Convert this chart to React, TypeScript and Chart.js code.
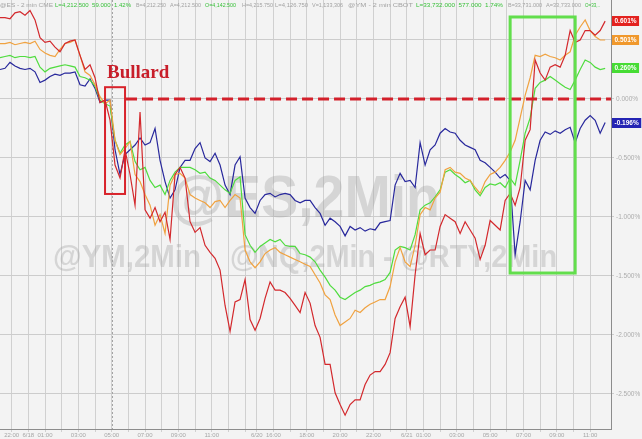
import React, { useEffect, useRef } from "react";
import { Chart, registerables } from "chart.js";

Chart.register(...registerables);

// ---- time axis: one unit = one hourly gridline ----
const X_MIN = -0.7;
const X_MAX = 35.95;
const BAR_START = -0.7; // first sampled bar
const BAR_STEP = 0.3; // spacing between sampled bars (in hourly units)

const X_TICK_POS = [
  0, 1, 2, 3, 4, 5, 6, 7, 8, 9, 10, 11, 12, 13, 14,
  14.7, 15.7, 16.7, 17.7, 18.7, 19.7, 20.7, 21.7, 22.7, 23.7, 24.7, 25.7, 26.7,
  27.7, 28.7, 29.7, 30.7, 31.7, 32.7, 33.7, 34.7,
];
const X_TICK_LABEL = [
  "22:00", "6/18", "01:00", "", "03:00", "", "05:00", "", "07:00", "", "09:00", "", "11:00", "", "",
  "6/20", "16:00", "", "18:00", "", "20:00", "", "22:00", "", "6/21", "01:00", "", "03:00",
  "", "05:00", "", "07:00", "", "09:00", "", "11:00",
];
const SESSION_MARK = 6;

// ---- value axis (% change) ----
const Y_MIN = -2.797;
const Y_MAX = 0.839;
const Y_TICKS = [0.5, 0, -0.5, -1, -1.5, -2, -2.5];

// ---- series (% change) ----
const RTY = [
  0.69, 0.69, 0.68, 0.73, 0.74, 0.71, 0.75, 0.67, 0.52, 0.48,
  0.49, 0.44, 0.40, 0.47, 0.49, 0.50, 0.37, 0.25, 0.29, 0.18,
  -0.03, -0.01, -0.18, -0.56, -0.67, -0.43, -0.64, -0.90, -0.11, -0.94,
  -1.01, -0.92, -1.04, -0.96, -1.19, -0.64, -0.58, -0.67, -1.04, -1.13,
  -1.09, -1.24, -1.30, -1.35, -1.45, -1.75, -1.97, -1.72, -1.70, -1.53,
  -1.87, -1.96, -1.86, -1.69, -1.55, -1.62, -1.62, -1.64, -1.69, -1.75,
  -1.81, -1.64, -1.73, -1.92, -2.02, -2.25, -2.25, -2.49, -2.59, -2.68,
  -2.59, -2.55, -2.55, -2.42, -2.34, -2.31, -2.31, -2.25, -2.15, -1.86,
  -1.76, -1.68, -1.93, -1.49, -1.14, -1.32, -1.28, -1.28, -1.08, -0.98,
  -1.01, -1.04, -1.14, -1.04, -1.11, -1.18, -1.36, -1.24, -1.03, -1.07,
  -1.11, -0.86, -0.80, -0.90, -0.75, -0.35, -0.26, 0.33, 0.22, 0.16,
  0.27, 0.29, 0.27, 0.37, 0.58, 0.48, 0.50, 0.58, 0.58, 0.54,
  0.58, 0.66,
];
const NQ = [
  0.47, 0.47, 0.48, 0.46, 0.47, 0.48, 0.47, 0.49, 0.42, 0.39,
  0.37, 0.36, 0.42, 0.47, 0.48, 0.50, 0.37, 0.23, 0.20, 0.12,
  0.02, -0.04, -0.01, -0.35, -0.47, -0.42, -0.36, -0.64, -0.70, -0.81,
  -0.90, -1.07, -0.98, -1.14, -0.73, -0.64, -0.63, -0.67, -0.81, -0.84,
  -0.86, -0.88, -0.92, -0.87, -0.86, -0.92, -0.86, -0.81, -0.84, -1.28,
  -1.38, -1.43, -1.38, -1.31, -1.28, -1.26, -1.30, -1.32, -1.34, -1.36,
  -1.38, -1.40, -1.42, -1.49, -1.56, -1.66, -1.70, -1.83, -1.92, -1.89,
  -1.86, -1.79, -1.81, -1.77, -1.74, -1.72, -1.70, -1.70, -1.59, -1.38,
  -1.26, -1.38, -1.42, -1.24, -0.98, -0.92, -0.94, -0.84, -0.79, -0.60,
  -0.58, -0.62, -0.63, -0.67, -0.69, -0.75, -0.80, -0.70, -0.64, -0.62,
  -0.58, -0.52, -0.45, -0.35, -0.16, 0.03, 0.18, 0.37, 0.36, 0.38,
  0.36, 0.35, 0.33, 0.37, 0.40, 0.54, 0.61, 0.67, 0.58, 0.53,
  0.50, 0.50,
];
const ES = [
  0.35, 0.36, 0.37, 0.35, 0.36, 0.36, 0.35, 0.36, 0.27, 0.23,
  0.26, 0.27, 0.28, 0.29, 0.28, 0.27, 0.19, 0.18, 0.16, 0.11,
  -0.01, -0.04, -0.06, -0.35, -0.46, -0.39, -0.36, -0.53, -0.60, -0.58,
  -0.69, -0.75, -0.73, -0.81, -0.69, -0.62, -0.58, -0.58, -0.58, -0.60,
  -0.63, -0.62, -0.67, -0.69, -0.73, -0.77, -0.80, -0.69, -0.66, -1.15,
  -1.24, -1.30, -1.25, -1.22, -1.19, -1.21, -1.19, -1.24, -1.25, -1.25,
  -1.31, -1.32, -1.34, -1.38, -1.45, -1.51, -1.58, -1.62, -1.68, -1.70,
  -1.67, -1.64, -1.62, -1.59, -1.58, -1.56, -1.55, -1.53, -1.47, -1.28,
  -1.25, -1.26, -1.28, -1.15, -0.94, -0.90, -0.88, -0.83, -0.77, -0.62,
  -0.60, -0.64, -0.67, -0.71, -0.69, -0.77, -0.82, -0.75, -0.72, -0.73,
  -0.71, -0.75, -0.67, -0.73, -0.52, -0.29, -0.16, 0.09, 0.14, 0.16,
  0.19, 0.16, 0.13, 0.10, 0.08, 0.16, 0.25, 0.33, 0.31, 0.27,
  0.25, 0.26,
];
const YM = [
  0.25, 0.26, 0.31, 0.28, 0.26, 0.25, 0.26, 0.23, 0.14, 0.16,
  0.19, 0.21, 0.20, 0.22, 0.22, 0.23, 0.12, 0.11, 0.17, 0.09,
  -0.03, -0.01, -0.01, -0.43, -0.64, -0.47, -0.43, -0.39, -0.33, -0.39,
  -0.37, -0.25, -0.52, -0.70, -0.84, -0.77, -0.58, -0.52, -0.52, -0.42,
  -0.37, -0.50, -0.53, -0.46, -0.56, -0.73, -0.81, -0.56, -0.49, -0.84,
  -0.92, -0.97, -0.86, -0.81, -0.80, -0.83, -0.81, -0.80, -0.81, -0.86,
  -0.88, -0.86, -0.86, -0.92, -0.97, -1.07, -1.01, -1.04, -1.08, -1.16,
  -1.08, -1.11, -1.09, -1.12, -1.10, -1.11, -1.05, -1.04, -1.03, -0.73,
  -0.63, -0.70, -0.69, -0.75, -0.37, -0.56, -0.43, -0.39, -0.29, -0.25,
  -0.28, -0.29, -0.35, -0.39, -0.41, -0.43, -0.52, -0.54, -0.58, -0.62,
  -0.67, -0.64, -0.69, -1.32, -1.04, -0.69, -0.77, -0.52, -0.35, -0.28,
  -0.30, -0.27, -0.29, -0.26, -0.24, -0.37, -0.25, -0.18, -0.14, -0.18,
  -0.29, -0.20,
];
const SERIES_NAMES = ["RTY", "NQ", "ES", "YM"];
const LAST_LABELS = ["0.601%", "0.501%", "0.260%", "-0.196%"];
const LINE_COLORS = ["#d3282c", "#f0a240", "#4fdc3e", "#28289c"];
const BOX_COLORS = ["#e3221f", "#f0982c", "#46dc34", "#2424b4"];

// ---- annotations (in data units) ----
const BULLARD_BOX = { x0: 5.6, x1: 6.8, y0: 0.1, y1: -0.805 };
const BULLARD_TEXT = { x: 5.72, y: 0.178, text: "Bullard" };
const ZERO_LINE = 0;
const GREEN_BOX = { x0: 29.9, x1: 33.8, y0: 0.695, y1: -1.475 };

const HEADER: [number, number, string, boolean][] = [
  [0, 53, "@ES - 2 min CME", false],
  [55, 131, "L=4,212.500  59.000  1.42%", true],
  [136, 166, "B=4,212.250", false],
  [170, 201, "A=4,212.500", false],
  [205, 236, "O=4,142.500", true],
  [242, 273, "H=4,215.750", false],
  [275, 308, "L=4,126.750", false],
  [312, 343, "V=1,133,306", false],
  [348, 413, "@YM - 2 min CBOT", false],
  [416, 503, "L=33,732.000  577.000  1.74%", true],
  [508, 542, "B=33,731.000", false],
  [546, 581, "A=33,733.000", false],
  [585, 600, "O=33,..", true],
];

const BG = "#f3f3f3";
const SANS = "'Liberation Sans', Arial, sans-serif";

function fitText(ctx: CanvasRenderingContext2D, text: string, x0: number, x1: number, base: number) {
  const w = ctx.measureText(text).width;
  const s = (x1 - x0) / w;
  ctx.save();
  ctx.translate(x0, base);
  ctx.scale(s, 1);
  ctx.fillText(text, 0, 0);
  ctx.restore();
}

const overlay = {
  id: "overlay",
  beforeDraw(chart: any) {
    const { ctx, width, height } = chart;
    ctx.save();
    ctx.fillStyle = BG;
    ctx.fillRect(0, 0, width, height);
    ctx.restore();
  },
  beforeDatasetsDraw(chart: any) {
    const { ctx, chartArea: ca, scales } = chart;
    const x = scales.x;
    ctx.save();
    // session marker
    ctx.strokeStyle = "#a4a4a4";
    ctx.lineWidth = 1;
    ctx.setLineDash([2, 2]);
    const sx = Math.round(x.getPixelForValue(SESSION_MARK)) + 0.5;
    ctx.beginPath();
    ctx.moveTo(sx, ca.top);
    ctx.lineTo(sx, ca.bottom);
    ctx.stroke();
    ctx.setLineDash([]);
    // watermark
    ctx.fillStyle = "rgba(160,160,160,0.36)";
    ctx.textBaseline = "alphabetic";
    ctx.font = `bold 60px ${SANS}`;
    fitText(ctx, "@ES,2Min", 170, 440, 217);
    ctx.font = `bold 32px ${SANS}`;
    fitText(ctx, "@YM,2Min", 53, 201, 267);
    fitText(ctx, "@NQ,2Min - @RTY,2Min", 230, 557, 267);
    ctx.restore();
  },
  afterDatasetsDraw(chart: any) {
    const { ctx, chartArea: ca, scales } = chart;
    const x = scales.x;
    const y = scales.y;
    ctx.save();
    // Bullard box
    const bx0 = x.getPixelForValue(BULLARD_BOX.x0);
    const bx1 = x.getPixelForValue(BULLARD_BOX.x1);
    const by0 = y.getPixelForValue(BULLARD_BOX.y0);
    const by1 = y.getPixelForValue(BULLARD_BOX.y1);
    ctx.strokeStyle = "#d8232b";
    ctx.lineWidth = 2;
    ctx.strokeRect(bx0, by0, bx1 - bx0, by1 - by0);
    // zero dashed line
    const zy = y.getPixelForValue(ZERO_LINE);
    ctx.strokeStyle = "#d3202b";
    ctx.lineWidth = 3;
    ctx.setLineDash([11, 5]);
    ctx.beginPath();
    ctx.moveTo(bx1 + 1, zy);
    ctx.lineTo(ca.right, zy);
    ctx.stroke();
    ctx.setLineDash([]);
    // Bullard text
    ctx.fillStyle = "#c81e2a";
    ctx.font = "bold 19px 'Liberation Serif', 'Times New Roman', serif";
    ctx.textBaseline = "alphabetic";
    ctx.fillText(BULLARD_TEXT.text, x.getPixelForValue(BULLARD_TEXT.x), y.getPixelForValue(BULLARD_TEXT.y));
    // green box
    const gx0 = x.getPixelForValue(GREEN_BOX.x0);
    const gx1 = x.getPixelForValue(GREEN_BOX.x1);
    const gy0 = y.getPixelForValue(GREEN_BOX.y0);
    const gy1 = y.getPixelForValue(GREEN_BOX.y1);
    ctx.strokeStyle = "#62de4c";
    ctx.lineWidth = 3;
    ctx.strokeRect(gx0, gy0, gx1 - gx0, gy1 - gy0);
    ctx.restore();
  },
  afterDraw(chart: any) {
    const { ctx, chartArea: ca, scales } = chart;
    const y = scales.y;
    ctx.save();
    // header quote line
    ctx.font = `6px ${SANS}`;
    ctx.textBaseline = "alphabetic";
    HEADER.forEach(([a, b, t, g]) => {
      ctx.fillStyle = g ? "#39c03a" : "#a2a2a2";
      fitText(ctx, t, a, b, 7);
    });
    // last-value boxes
    const series = [RTY, NQ, ES, YM];
    ctx.font = `bold 6.5px ${SANS}`;
    ctx.textBaseline = "middle";
    series.forEach((s, i) => {
      const py = y.getPixelForValue(s[s.length - 1]);
      const t = LAST_LABELS[i];
      const w = ctx.measureText(t).width + 5;
      ctx.fillStyle = BOX_COLORS[i];
      ctx.fillRect(ca.right + 1, Math.round(py) - 5, w, 10);
      ctx.fillStyle = "#ffffff";
      ctx.fillText(t, ca.right + 3.5, Math.round(py));
    });
    ctx.restore();
  },
};

export default function App() {
  const ref = useRef<HTMLCanvasElement>(null);
  useEffect(() => {
    const canvas = ref.current;
    if (!canvas) return;
    const toPts = (arr: number[]) => arr.map((v, i) => ({ x: BAR_START + i * BAR_STEP, y: v }));
    const all = [RTY, NQ, ES, YM];
    const chart = new Chart(canvas, {
      type: "line",
      data: {
        datasets: all.map((s, i) => ({
          label: SERIES_NAMES[i],
          data: toPts(s),
          borderColor: LINE_COLORS[i],
          backgroundColor: LINE_COLORS[i],
          borderWidth: 1.2,
          pointRadius: 0,
          tension: 0,
          fill: false,
        })),
      },
      options: {
        animation: false,
        responsive: false,
        devicePixelRatio: 1,
        layout: { padding: 0 },
        plugins: { legend: { display: false }, tooltip: { enabled: false } },
        scales: {
          x: {
            type: "linear",
            min: X_MIN,
            max: X_MAX,
            afterBuildTicks: (s: any) => {
              s.ticks = X_TICK_POS.map((v) => ({ value: v }));
            },
            afterFit: (s: any) => {
              s.height = 10;
              s.paddingLeft = 0;
              s.paddingRight = 0;
            },
            grid: { color: "#d0d0d0", lineWidth: 1, tickLength: 3, drawTicks: true },
            border: { color: "#8c8c8c", width: 1 },
            ticks: {
              autoSkip: false,
              maxRotation: 0,
              minRotation: 0,
              padding: 0,
              color: "#a6a6a6",
              font: { size: 6, family: SANS },
              callback: (_v: any, i: number) => X_TICK_LABEL[i] ?? "",
            },
          },
          y: {
            position: "right",
            min: Y_MIN,
            max: Y_MAX,
            afterBuildTicks: (s: any) => {
              s.ticks = Y_TICKS.map((v) => ({ value: v }));
            },
            afterFit: (s: any) => {
              s.width = 31;
              s.paddingTop = 0;
              s.paddingBottom = 0;
            },
            grid: { color: "#cccccc", lineWidth: 1, tickLength: 3, drawTicks: true },
            border: { color: "#8c8c8c", width: 1 },
            ticks: {
              padding: 2,
              color: "#acacac",
              font: { size: 6.5, family: SANS },
              callback: (v: any) => Number(v).toFixed(3) + "%",
            },
          },
        },
      },
      plugins: [overlay],
    } as any);
    return () => chart.destroy();
  }, []);
  return (
    <div style={{ position: "fixed", left: 0, top: 0, width: 642, height: 439, background: BG }}>
      <canvas ref={ref} width={642} height={439} style={{ display: "block" }} />
    </div>
  );
}
